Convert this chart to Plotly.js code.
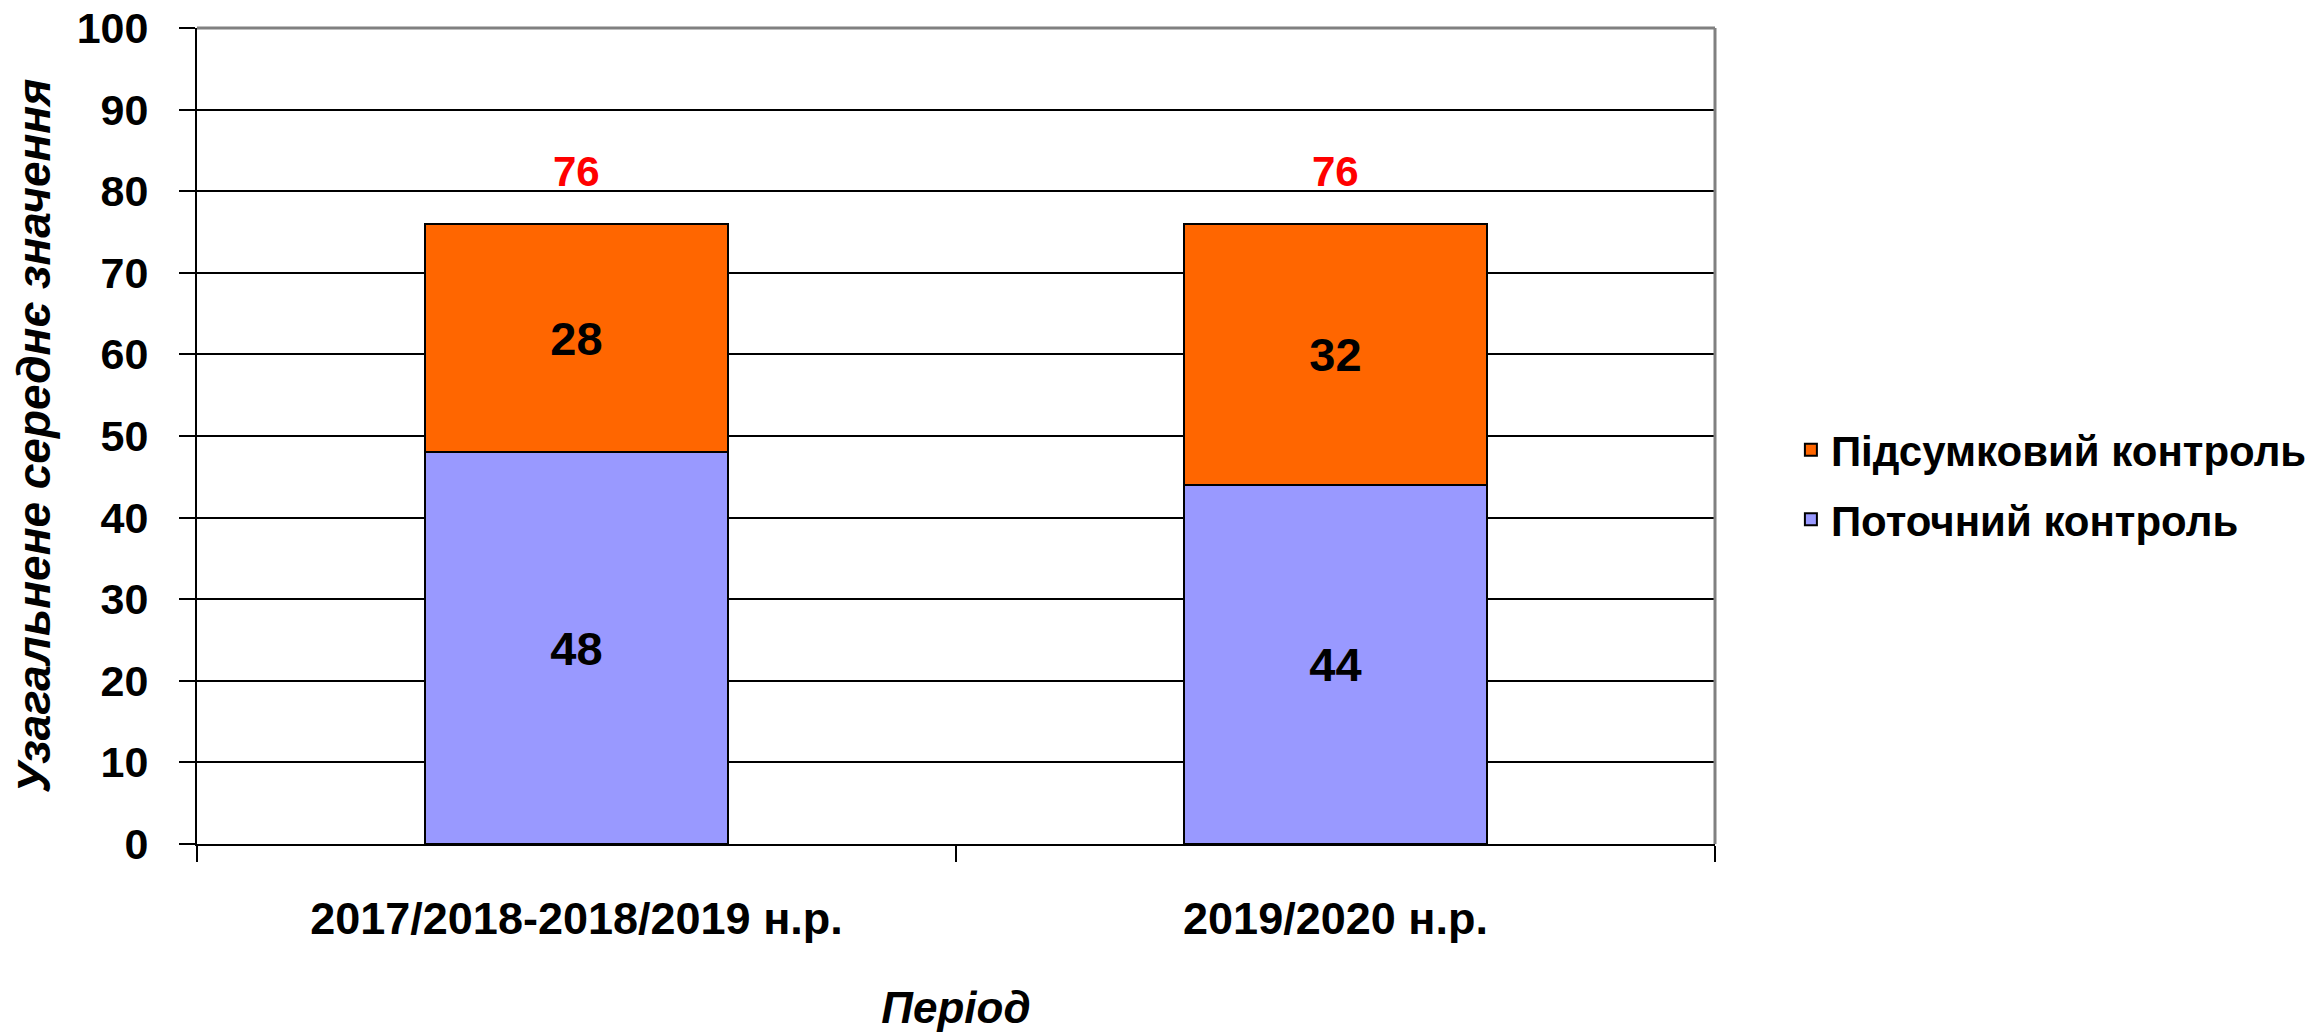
<!DOCTYPE html>
<html>
<head>
<meta charset="utf-8">
<script src="https://cdn.plot.ly/plotly-3.0.1.min.js"></script>
<style>
html,body{margin:0;padding:0;background:#fff;}
#chart{width:2318px;height:1032px;}
</style>
</head>
<body>
<div id="chart"></div>
<script>
const categories = ["2017/2018-2018/2019 н.р.", "2019/2020 н.р."];
const currentControl = [48, 44];   // Поточний контроль
const finalControl = [28, 32];     // Підсумковий контроль
const totals = [76, 76];
const seriesNames = ["Поточний контроль", "Підсумковий контроль"];
const yTitle = "Узагальнене середнє значення";
const xTitle = "Період";

const FONT = "Liberation Sans, Arial, sans-serif";

const traces = [
  {
    type: "bar", name: seriesNames[0], x: categories, y: currentControl,
    legendgroup: "g1", legendrank: 2,
    width: 0.4,
    marker: {color: "#9999FF", line: {color: "#000", width: 2}},
    text: currentControl.map(String), textposition: "inside", insidetextanchor: "middle",
    textfont: {family: FONT, size: 47, color: "#000", weight: "bold"},
    hoverinfo: "none"
  },
  {
    type: "bar", name: seriesNames[1], x: categories, y: finalControl,
    legendgroup: "g2", legendrank: 1,
    width: 0.4,
    marker: {color: "#FF6600", line: {color: "#000", width: 2}},
    text: finalControl.map(String), textposition: "inside", insidetextanchor: "middle",
    textfont: {family: FONT, size: 47, color: "#000", weight: "bold"},
    hoverinfo: "none"
  }
];

const annotations = categories.map((c, i) => ({
  x: c, y: totals[i], xref: "x", yref: "y",
  text: String(totals[i]), showarrow: false,
  yanchor: "bottom", yshift: 27,
  font: {family: FONT, size: 42, color: "#FF0000", weight: "bold"}
}));

const layout = {
  width: 2318, height: 1032,
  margin: {l: 197, r: 603, t: 28, b: 188, autoexpand: false},
  paper_bgcolor: "#fff", plot_bgcolor: "#fff",
  barmode: "stack",
  showlegend: true,
  legend: {
    x: 1.05, xanchor: "left", y: 0.44, yanchor: "middle",
    traceorder: "grouped", tracegroupgap: 12,
    font: {family: FONT, size: 42, color: "#000", weight: "bold"},
    bgcolor: "rgba(0,0,0,0)"
  },
  font: {family: FONT, color: "#000"},
  xaxis: {
    type: "category",
    showline: true, linecolor: "#000", linewidth: 2,
    ticks: "outside", tickson: "boundaries", ticklen: 16, tickwidth: 2, tickcolor: "#000",
    tickfont: {family: FONT, size: 45, color: "#000", weight: "bold"},
    ticklabelstandoff: 34,
    showgrid: false,
    title: {text: xTitle, font: {family: FONT, size: 44, color: "#000", weight: "bold", style: "italic"}, standoff: 52}
  },
  yaxis: {
    range: [0, 100], dtick: 10, tick0: 0,
    showline: true, linecolor: "#000", linewidth: 2,
    ticks: "outside", ticklen: 16, tickwidth: 2, tickcolor: "#000",
    tickfont: {family: FONT, size: 43, color: "#000", weight: "bold"},
    ticklabelstandoff: 22,
    showgrid: true, gridcolor: "#000", gridwidth: 2,
    zeroline: false,
    title: {text: yTitle, font: {family: FONT, size: 46, color: "#000", weight: "bold", style: "italic"}, standoff: 12}
  },
  shapes: [
    {type: "line", xref: "paper", yref: "paper", x0: 0, x1: 1, y0: 1, y1: 1, line: {color: "#808080", width: 3}, layer: "above"},
    {type: "line", xref: "paper", yref: "paper", x0: 1, x1: 1, y0: 0, y1: 1, line: {color: "#808080", width: 3}, layer: "above"}
  ],
  annotations: annotations
};

Plotly.newPlot("chart", traces, layout, {displayModeBar: false, staticPlot: true});
</script>
</body>
</html>
